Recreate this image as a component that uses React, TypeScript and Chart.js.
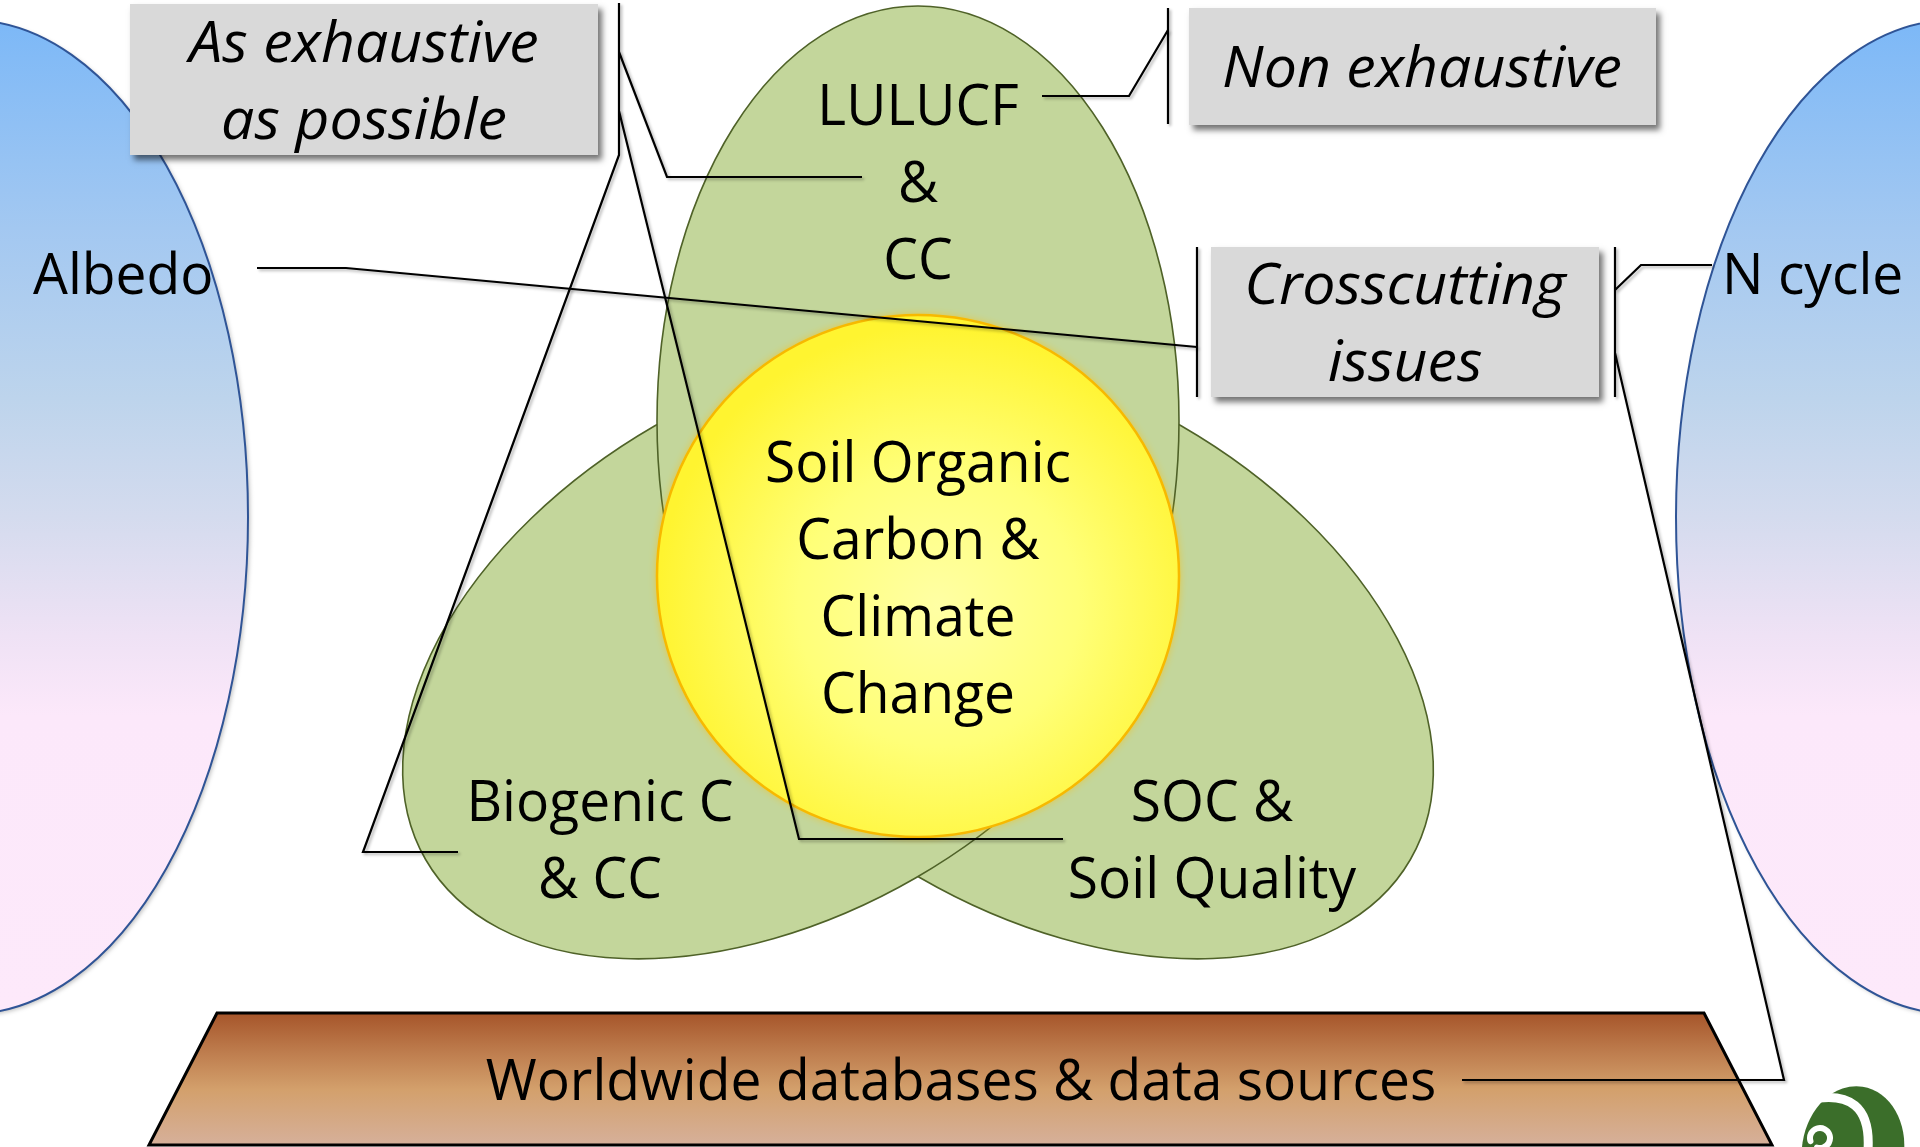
import React, { useEffect, useRef } from "react";
import { Chart, registerables } from "chart.js";

Chart.register(...registerables);

// ---------- data (labels of the diagram) ----------
const topLabel = ["LULUCF", "&", "CC"];
const coreLabel = ["Soil Organic", "Carbon &", "Climate", "Change"];
const leftLabel = ["Biogenic C", "& CC"];
const rightLabel = ["SOC &", "Soil Quality"];
const baseLabel = ["Worldwide databases & data sources"];
const sideLabels = ["Albedo", "N cycle"];
const boxExhaustive = ["As exhaustive", "as possible"];
const boxNonExhaustive = ["Non exhaustive"];
const boxCrosscutting = ["Crosscutting", "issues"];

// callout connector paths (diagram units = 1920 x 1147 canvas)
const pathExhaustive: number[][] = [[619, 3], [619, 155], [363, 852], [458, 852]];
const pathExhaustiveLulucf: number[][] = [[619, 52], [667, 177], [862, 177]];
const pathExhaustiveSoc: number[][] = [[619, 111], [799, 839], [1063, 839]];
const pathNonExhaustive: number[][] = [[1168, 8], [1168, 124]];
const pathNonExhaustiveLulucf: number[][] = [[1168, 30], [1129, 96], [1042, 96]];
const pathCrossLeft: number[][] = [[1197, 247], [1197, 397]];
const pathAlbedo: number[][] = [[257, 268], [346, 268], [1197, 347]];
const pathCrossRight: number[][] = [[1615, 247], [1615, 397]];
const pathNcycle: number[][] = [[1615, 290], [1641, 265], [1712, 265]];
const pathDatabases: number[][] = [[1615, 353], [1784, 1080], [1462, 1080]];

const calloutPaths = [
  pathExhaustive,
  pathExhaustiveLulucf,
  pathExhaustiveSoc,
  pathNonExhaustive,
  pathNonExhaustiveLulucf,
  pathCrossLeft,
  pathAlbedo,
  pathCrossRight,
  pathNcycle,
  pathDatabases,
];

// ---------- layout (positions / sizes / styles) ----------
const W = 1920;
const H = 1147;
const FONT = '"Open Sans", "Noto Sans", sans-serif';
const FONT_SIZE = 57;
const LINE = 77;

const layout = {
  sideEllipses: [
    { cx: -31, cy: 517, rx: 279, ry: 497 },
    { cx: 1953, cy: 517, rx: 277, ry: 497 },
  ],
  green: [
    { cx: 1051, cy: 652, rx: 261, ry: 415, rot: (2 * Math.PI) / 3 },
    { cx: 785, cy: 652, rx: 261, ry: 415, rot: (-2 * Math.PI) / 3 },
    { cx: 918, cy: 421, rx: 261, ry: 415, rot: 0 },
  ],
  core: { cx: 918, cy: 576, r: 261 },
  boxes: [
    { x0: 130, y0: 4, x1: 598, y1: 155 },
    { x0: 1189, y0: 8, x1: 1656, y1: 125 },
    { x0: 1211, y0: 247, x1: 1599, y1: 397 },
  ],
  trapezoid: [
    [217, 1013],
    [1704, 1013],
    [1772, 1145],
    [149, 1145],
  ],
};

const diagramPlugin = {
  id: "diagram",
  beforeDatasetsDraw(chart: any) {
    const ctx: CanvasRenderingContext2D = chart.ctx;
    const xs = chart.scales.x;
    const ys = chart.scales.y;
    const X = (v: number) => xs.getPixelForValue(v);
    const Y = (v: number) => ys.getPixelForValue(v);
    const LX = (v: number) => X(v) - X(0);
    const LY = (v: number) => Math.abs(Y(v) - Y(0));

    ctx.save();
    ctx.fillStyle = "#ffffff";
    ctx.fillRect(0, 0, chart.width, chart.height);

    // side ellipses (Albedo / N cycle)
    layout.sideEllipses.forEach((e) => {
      const top = Y(e.cy - e.ry);
      const bot = Y(e.cy + e.ry);
      const g = ctx.createLinearGradient(0, top, 0, bot);
      g.addColorStop(0, "#7CB8F7");
      g.addColorStop(0.21, "#A3C8F1");
      g.addColorStop(0.38, "#BDD4EC");
      g.addColorStop(0.5, "#D4DBEE");
      g.addColorStop(0.62, "#EFE2F5");
      g.addColorStop(0.7, "#FCE8FA");
      g.addColorStop(1, "#FDE9FA");
      ctx.save();
      ctx.shadowColor = "rgba(0,0,0,0.25)";
      ctx.shadowBlur = 4;
      ctx.shadowOffsetX = 2;
      ctx.shadowOffsetY = 2;
      ctx.beginPath();
      ctx.ellipse(X(e.cx), Y(e.cy), LX(e.rx), LY(e.ry), 0, 0, Math.PI * 2);
      ctx.fillStyle = g;
      ctx.fill();
      ctx.restore();
      ctx.lineWidth = 2;
      ctx.strokeStyle = "#2F5496";
      ctx.stroke();
    });

    // green ellipses
    layout.green.forEach((e) => {
      ctx.beginPath();
      ctx.ellipse(X(e.cx), Y(e.cy), LX(e.rx), LY(e.ry), e.rot, 0, Math.PI * 2);
      ctx.fillStyle = "#C3D69B";
      ctx.fill();
      ctx.lineWidth = 1.6;
      ctx.strokeStyle = "#4F6228";
      ctx.stroke();
    });

    // yellow core circle
    {
      const c = layout.core;
      const g = ctx.createRadialGradient(X(c.cx + 20), Y(c.cy + 30), 0, X(c.cx + 20), Y(c.cy + 30), LX(c.r + 20));
      g.addColorStop(0, "#FFFFA4");
      g.addColorStop(0.5, "#FFFF78");
      g.addColorStop(1, "#FFF430");
      ctx.save();
      ctx.shadowColor = "rgba(255,190,0,0.7)";
      ctx.shadowBlur = 8;
      ctx.beginPath();
      ctx.arc(X(c.cx), Y(c.cy), LX(c.r), 0, Math.PI * 2);
      ctx.fillStyle = g;
      ctx.fill();
      ctx.restore();
      ctx.lineWidth = 2.5;
      ctx.strokeStyle = "#F7B900";
      ctx.stroke();
    }

    // trapezoid base
    {
      const t = layout.trapezoid;
      const g = ctx.createLinearGradient(0, Y(t[0][1]), 0, Y(t[2][1]));
      g.addColorStop(0, "#A6552A");
      g.addColorStop(0.3, "#BE7D4E");
      g.addColorStop(0.58, "#D3A06C");
      g.addColorStop(1, "#D6B09A");
      ctx.beginPath();
      t.forEach((p, i) => (i === 0 ? ctx.moveTo(X(p[0]), Y(p[1])) : ctx.lineTo(X(p[0]), Y(p[1]))));
      ctx.closePath();
      ctx.fillStyle = g;
      ctx.fill();
      ctx.lineWidth = 3;
      ctx.lineJoin = "miter";
      ctx.strokeStyle = "#000000";
      ctx.stroke();
    }

    // gray callout boxes
    layout.boxes.forEach((b) => {
      ctx.save();
      ctx.shadowColor = "rgba(0,0,0,0.55)";
      ctx.shadowBlur = 6;
      ctx.shadowOffsetX = 4;
      ctx.shadowOffsetY = 5;
      ctx.fillStyle = "#D9D9D9";
      ctx.fillRect(X(b.x0), Y(b.y0), X(b.x1) - X(b.x0), Y(b.y1) - Y(b.y0));
      ctx.restore();
    });

    // logo
    ctx.save();
    ctx.beginPath();
    ctx.rect(0, 0, chart.width, chart.height);
    ctx.clip();
    ctx.fillStyle = "#3B6E2A";
    ctx.beginPath();
    ctx.ellipse(X(1853), Y(1150), LX(51), LY(64), 0.15, 0, Math.PI * 2);
    ctx.fill();
    ctx.strokeStyle = "#ffffff";
    ctx.lineWidth = 9;
    ctx.lineCap = "round";
    ctx.beginPath();
    ctx.moveTo(X(1808), Y(1100));
    ctx.quadraticCurveTo(X(1872), Y(1086), X(1868), Y(1150));
    ctx.stroke();
    ctx.lineWidth = 6;
    ctx.beginPath();
    ctx.arc(X(1820), Y(1138), LX(10), Math.PI * 0.9, Math.PI * 2.6);
    ctx.stroke();
    ctx.restore();

    ctx.restore();
  },
  beforeDatasetDraw(chart: any) {
    const ctx = chart.ctx;
    ctx.save();
    ctx.shadowColor = "rgba(0,0,0,0.3)";
    ctx.shadowBlur = 3;
    ctx.shadowOffsetX = 2;
    ctx.shadowOffsetY = 2;
  },
  afterDatasetDraw(chart: any) {
    chart.ctx.restore();
  },
  afterDatasetsDraw(chart: any) {
    const ctx: CanvasRenderingContext2D = chart.ctx;
    const xs = chart.scales.x;
    const ys = chart.scales.y;
    const X = (v: number) => xs.getPixelForValue(v);
    const Y = (v: number) => ys.getPixelForValue(v);

    ctx.save();
    ctx.fillStyle = "#000000";
    ctx.textBaseline = "alphabetic";
    // calibrate horizontal condensing so the sans face matches the reference's narrow face
    ctx.font = `${FONT_SIZE}px ${FONT}`;
    const k = Math.min(1.1, Math.max(0.8, 306 / ctx.measureText("Soil Organic").width));
    const kItalic = k * 1.07;

    const draw = (s: string, x: number, y: number, align: CanvasTextAlign, italic = false) => {
      ctx.font = `${italic ? "italic " : ""}${FONT_SIZE}px ${FONT}`;
      ctx.textAlign = align;
      ctx.save();
      ctx.translate(X(x), Y(y));
      ctx.scale(italic ? kItalic : k, 1);
      ctx.fillText(s, 0, 0);
      ctx.restore();
    };
    const block = (lines: string[], x: number, y0: number, italic = false) =>
      lines.forEach((s, i) => draw(s, x, y0 + i * LINE, "center", italic));

    block(topLabel, 918, 125);
    block(coreLabel, 918, 482);
    block(leftLabel, 600, 821);
    block(rightLabel, 1212, 821);
    block(baseLabel, 961, 1100);
    draw(sideLabels[0], 33, 294, "left");
    draw(sideLabels[1], 1722, 294, "left");
    block(boxExhaustive, 364, 62, true);
    block(boxNonExhaustive, 1422, 87, true);
    block(boxCrosscutting, 1405, 304, true);
    ctx.restore();
  },
};

export default function App() {
  const ref = useRef<HTMLCanvasElement | null>(null);
  useEffect(() => {
    if (!ref.current) return;
    const chart = new Chart(ref.current, {
      type: "scatter",
      data: {
        datasets: calloutPaths.map((pts, i) => ({
          label: `callout-${i}`,
          data: pts.map(([x, y]) => ({ x, y })),
          showLine: true,
          borderColor: "#000000",
          borderWidth: 2.2,
          borderJoinStyle: "miter" as const,
          pointRadius: 0,
          pointHoverRadius: 0,
          fill: false,
          tension: 0,
        })),
      },
      options: {
        responsive: false,
        maintainAspectRatio: false,
        devicePixelRatio: 1,
        animation: false,
        events: [],
        layout: { padding: 0 },
        plugins: { legend: { display: false }, tooltip: { enabled: false } },
        scales: {
          x: { type: "linear", min: 0, max: W, display: false },
          y: { type: "linear", min: 0, max: H, reverse: true, display: false },
        },
      },
      plugins: [diagramPlugin],
    });
    return () => chart.destroy();
  }, []);
  return (
    <div style={{ position: "absolute", left: 0, top: 0, width: W, height: H, background: "#fff" }}>
      <canvas ref={ref} width={W} height={H} style={{ display: "block", width: W, height: H }} />
    </div>
  );
}
